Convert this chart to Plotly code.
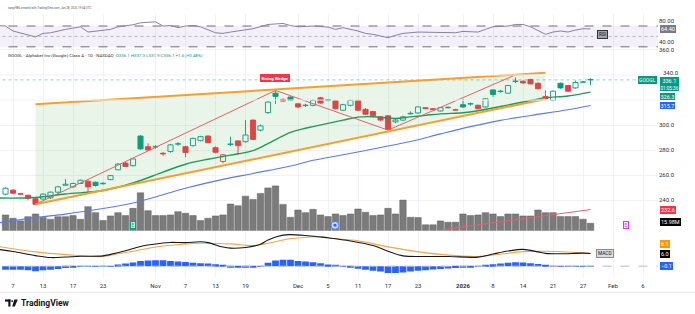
import plotly.graph_objects as go

W, H = 695, 314
PW = 658  # plot-area width in px (right margin holds price scale)

GREEN = "#089981"
RED = "#f23645"
BLUE = "#2962ff"
GRID = "#f0f2f7"

# ---------------- data ----------------
# x = trading-day index, 0 = 7 Oct 2025 ... 77 = 28 Jan 2026
tick_idx = [0, 4, 8, 12, 19, 23, 27, 31, 38, 42, 46, 50, 54, 60, 64, 68, 72, 76, 80, 84]
tick_text = ["7", "13", "17", "23", "Nov", "7", "13", "19", "Dec", "5", "11", "17", "23",
             "<b>2026</b>", "8", "14", "21", "27", "Feb", "6"]
price_ticks = [240, 260, 280, 300, 360]

idx = list(range(-1, 78))
opens = [244.9, 248.1, 245.3, 244.0, 241.2, 241.0, 242.0, 246.5, 252.0, 250.7,
         253.4, 255.2, 254.4, 253.2, 256.5, 264.4, 269.7, 267.6, 291.3, 282.8,
         282.5, 277.5, 278.9, 284.8, 282.8, 283.6, 287.6, 291.3, 282.0, 271.0,
         284.5, 287.4, 286.8, 304.0, 296.0, 310.0, 325.5, 320.5, 322.4, 317.0,
         315.6, 315.8, 321.8, 319.6, 319.7, 311.9, 315.8, 319.7, 312.6, 310.8,
         306.6, 307.4, 302.6, 304.0, 309.0, 309.7, 313.9, 313.1, 311.3, 313.9,
         312.3, 316.3, 316.8, 315.8, 314.5, 328.1, 326.8, 325.5, 334.8, 335.0,
         336.4, 333.4, 322.9, 319.8, 333.4, 331.6, 329.7, 334.2, 336.1]
highs = [250.5, 249.0, 246.0, 244.5, 241.8, 245.5, 247.0, 251.5, 257.0, 254.0,
         256.5, 256.0, 255.0, 254.5, 260.2, 269.5, 270.5, 273.5, 291.8, 285.5,
         284.0, 278.5, 285.0, 286.5, 283.5, 290.0, 291.5, 291.8, 283.0, 277.0,
         290.8, 288.0, 304.0, 304.5, 300.5, 319.0, 327.7, 321.5, 323.0, 317.5,
         317.0, 320.5, 322.5, 321.0, 320.2, 317.0, 320.3, 320.5, 313.5, 311.5,
         307.0, 308.0, 305.0, 307.5, 311.0, 315.0, 314.5, 313.5, 314.5, 314.8,
         313.0, 321.0, 318.0, 316.5, 321.5, 328.5, 328.0, 332.2, 338.0, 335.7,
         337.0, 334.0, 327.7, 327.6, 334.0, 332.0, 335.5, 335.3, 337.3]
lows = [244.0, 245.0, 244.3, 240.0, 236.2, 240.5, 241.0, 245.5, 251.5, 250.0,
        253.0, 246.0, 251.0, 252.5, 256.0, 264.0, 266.5, 267.0, 280.5, 279.5,
        281.0, 275.5, 278.0, 283.5, 274.4, 283.0, 287.0, 285.5, 277.5, 269.5,
        283.5, 276.3, 286.0, 288.0, 295.0, 309.0, 317.0, 318.5, 319.3, 313.5,
        314.5, 315.0, 317.0, 319.0, 312.5, 311.5, 315.0, 311.0, 308.0, 306.5,
        303.0, 296.0, 301.5, 303.5, 308.5, 309.0, 312.8, 312.0, 311.0, 313.2,
        311.5, 313.8, 315.5, 312.5, 314.0, 322.5, 326.0, 325.0, 333.5, 333.0,
        332.5, 328.5, 319.8, 319.3, 329.0, 326.5, 329.0, 333.8, 331.9]
closes = [249.6, 245.7, 244.9, 241.7, 236.8, 244.9, 246.5, 250.7, 252.8, 253.4,
          256.0, 250.7, 251.8, 253.4, 259.7, 268.9, 267.0, 273.0, 281.0, 280.2,
          283.0, 277.0, 284.2, 285.0, 278.1, 289.4, 290.8, 286.0, 278.3, 276.3,
          285.0, 283.6, 292.1, 288.6, 299.4, 318.4, 322.9, 319.2, 319.8, 314.5,
          315.8, 319.7, 317.6, 320.4, 313.1, 316.3, 319.7, 311.9, 308.7, 307.4,
          304.0, 296.5, 304.0, 306.6, 309.4, 314.5, 313.1, 312.3, 313.9, 314.1,
          311.9, 314.5, 317.0, 313.1, 321.0, 324.5, 327.1, 331.6, 335.0, 333.7,
          332.9, 329.0, 321.0, 327.1, 329.7, 327.1, 334.0, 334.5, 336.1]
volume_m = [33.6, 26.6, 21.0, 30.0, 35.7, 28.0, 24.5, 30.0, 30.0, 32.2,
            24.5, 51.1, 38.5, 21.7, 31.5, 38.5, 32.2, 47.6, 80.5, 42.7,
            32.2, 32.2, 33.6, 40.6, 37.1, 32.2, 21.7, 26.6, 31.5, 33.6,
            56.7, 53.2, 73.5, 66.5, 79.1, 91.0, 95.2, 56.0, 28.7, 44.1,
            38.5, 45.5, 33.6, 30.1, 35.7, 32.2, 35.7, 46.2, 39.2, 32.2,
            33.6, 47.6, 35.7, 65.1, 28.7, 28.0, 12.6, 12.6, 21.0, 18.2,
            18.2, 35.7, 32.2, 33.6, 38.5, 35.7, 30.1, 35.7, 35.7, 31.5,
            31.5, 44.1, 38.5, 38.5, 30.1, 30.1, 30.1, 24.5, 15.98]
macd_hist = [-1.7, -1.7, -1.7, -2.0, -2.4, -2.0, -1.7, -1.4, -0.9, -0.6,
             -0.3, -0.1, -0.1, -0.3, 0.1, 0.8, 1.3, 1.7, 2.4, 2.7,
             2.8, 2.8, 2.4, 2.2, 2.0, 1.6, 1.4, 1.3, 0.9, 0.5,
             -0.5, -0.6, -0.8, -0.6, 0.05, 1.6, 2.7, 3.0, 3.0, 2.5,
             2.2, 1.9, 1.4, 0.8, 0.3, -0.3, -0.8, -1.2, -1.7, -2.2,
             -2.6, -3.3, -3.3, -3.0, -2.6, -2.2, -1.9, -1.6, -1.3, -1.1,
             -0.9, -0.8, -0.6, -0.3, 0.3, 0.9, 1.3, 1.6, 1.9, 1.8,
             1.4, 1.0, 0.2, -0.1, -0.2, -0.3, -0.3, -0.2, -0.1]

ma_fast_x = [-2, 3, 7, 12, 16, 20, 23, 26, 28, 30, 32, 34, 37, 39, 40, 44, 46, 48, 51,
             53, 55, 57, 60, 62, 65, 67, 69, 71, 74, 77]
ma_fast_v = [241.8, 242.2, 245.0, 247.8, 253.8, 262.5, 268.8, 272.8, 275.0, 277.1,
             279.6, 285.3, 294.2, 297.5, 298.8, 304.0, 306.4, 306.7, 305.3, 306.6,
             307.8, 309.0, 309.9, 311.5, 314.9, 317.2, 319.6, 321.9, 323.2, 326.3]
ma_slow_x = [-2, 3, 7, 12, 16, 20, 23, 28, 32, 37, 40, 44, 49, 53, 57, 61, 65, 69, 74, 77]
ma_slow_v = [221.9, 226.2, 229.0, 233.4, 237.9, 244.4, 249.6, 256.7, 261.4, 267.4,
             271.9, 276.3, 282.1, 286.9, 293.0, 298.8, 303.8, 307.7, 312.2, 315.7]

rsi_x = [-2, -1, 0, 1, 3, 4, 5, 7, 8, 9, 10, 12, 13, 14, 16, 17, 19, 20, 21, 22, 23, 24,
         25, 27, 28, 29, 31, 32, 34, 36, 37, 38, 40, 42, 43, 44, 46, 47, 48, 50, 51, 52,
         54, 55, 58, 59, 60, 62, 63, 64, 66, 67, 68, 69, 71, 72, 73, 74, 75, 76, 77]
rsi_v = [71.0, 70.0, 60.4, 57.0, 49.0, 55.8, 57.0, 63.5, 65.4, 68.6, 58.4, 61.0, 63.5,
         68.6, 72.4, 76.2, 78.1, 70.0, 71.0, 67.0, 70.0, 71.0, 68.6, 57.0, 55.8, 58.4,
         62.3, 64.8, 73.0, 74.9, 71.0, 68.6, 69.9, 68.0, 63.5, 66.7, 60.4, 55.8, 54.0,
         47.6, 52.0, 55.8, 58.4, 58.4, 58.4, 57.1, 59.6, 58.4, 63.5, 68.6, 69.9, 73.0,
         73.0, 68.6, 54.0, 58.4, 60.4, 58.4, 62.3, 64.8, 64.4]

macd_x = [-2, 0, 3, 5, 7, 9, 12, 13, 15, 17, 20, 21, 23, 25, 26, 28, 29, 31, 33, 34,
          36, 37, 39, 41, 42, 45, 48, 50, 52, 55, 58, 62, 64, 66, 68, 70, 71, 73, 76, 77]
macd_v = [8.0, 7.0, 5.0, 4.1, 4.35, 4.7, 4.9, 5.6, 7.3, 9.4, 11.0, 11.3, 11.2, 11.6,
          11.2, 9.1, 8.6, 8.9, 10.4, 12.5, 14.8, 15.0, 14.6, 13.9, 13.5, 12.0, 9.8,
          7.1, 4.9, 4.6, 4.6, 4.3, 5.8, 7.2, 8.0, 6.8, 6.1, 5.9, 6.2, 6.0]
signal_x = [-2, 3, 7, 12, 14, 16, 20, 25, 29, 32, 34, 36, 38, 41, 42, 46, 49, 53, 57,
            62, 64, 68, 71, 75, 77]
signal_v = [9.4, 6.8, 5.5, 4.6, 5.9, 7.1, 9.6, 10.9, 10.6, 9.8, 10.9, 12.5, 13.4, 14.0,
            13.4, 12.1, 9.9, 7.4, 5.6, 4.6, 5.3, 6.9, 7.1, 6.5, 6.1]

wedge_x = [3, 71]
wedge_upper = [316.6, 341.7]
wedge_lower = [236.8, 320.9]
pattern_x = [3, 35, 50, 67]
pattern_y = [236.8, 327.7, 296.0, 340.1]
vol_trend_x = [57, 77]
vol_trend_y = [216.3, 232.6]
last_price = 336.1

# ---------------- helpers ----------------
def pxx(xp):
    return xp / PW


def pxy(yp):
    return 1 - yp / H


fig = go.Figure()

# volume (base axis of price pane)
fig.add_trace(go.Bar(x=idx, y=volume_m, width=0.86, marker=dict(color="#7b7b7b",
                     line=dict(color="#5e5e5e", width=0.5)), yaxis="y2", showlegend=False,
                     hoverinfo="skip"))

# wedge fill (drawn first so candles sit above it)
fig.add_trace(go.Scatter(x=[wedge_x[0], wedge_x[0], wedge_x[1], wedge_x[1], wedge_x[0]],
                         y=[wedge_lower[0], wedge_upper[0], wedge_upper[1], wedge_lower[1], wedge_lower[0]],
                         mode="lines", fill="toself", fillcolor="rgba(76,175,80,0.13)",
                         line=dict(width=0), yaxis="y3", showlegend=False, hoverinfo="skip"))
fig.add_trace(go.Scatter(x=[-3, 90], y=[last_price, last_price], mode="lines",
                         line=dict(color="rgba(8,153,129,0.45)", width=1, dash="dot"),
                         yaxis="y3", showlegend=False, hoverinfo="skip"))

# candle groups
n = len(idx)
groups = {}
for k in range(n):
    prev = closes[k - 1] if k > 0 else opens[k]
    col = GREEN if closes[k] >= prev else RED
    hollow = closes[k] >= opens[k]
    groups.setdefault((col, hollow), []).append(k)

for col in (GREEN, RED):
    wx, wy = [], []
    for k in range(n):
        prev = closes[k - 1] if k > 0 else opens[k]
        c = GREEN if closes[k] >= prev else RED
        if c != col:
            continue
        top = max(opens[k], closes[k])
        bot = min(opens[k], closes[k])
        wx += [idx[k], idx[k], None, idx[k], idx[k], None]
        wy += [highs[k], top, None, bot, lows[k], None]
    fig.add_trace(go.Scatter(x=wx, y=wy, mode="lines", line=dict(color=col, width=0.9),
                             yaxis="y3", showlegend=False, hoverinfo="skip"))

for (col, hollow), ks in groups.items():
    bx = [idx[k] for k in ks]
    base = [min(opens[k], closes[k]) for k in ks]
    hgt = [max(abs(closes[k] - opens[k]), 0.35) for k in ks]
    fig.add_trace(go.Bar(x=bx, y=hgt, base=base, width=0.68,
                         marker=dict(color="white" if hollow else col,
                                     line=dict(color=col, width=0.9)),
                         yaxis="y3", showlegend=False, hoverinfo="skip"))

# moving averages
fig.add_trace(go.Scatter(x=ma_slow_x, y=ma_slow_v, mode="lines", line=dict(color="#5b7be6", width=1.1, shape="spline"),
                         yaxis="y3", showlegend=False, hoverinfo="skip"))
fig.add_trace(go.Scatter(x=ma_fast_x, y=ma_fast_v, mode="lines", line=dict(color="#1f9a5a", width=1.4, shape="spline"),
                         yaxis="y3", showlegend=False, hoverinfo="skip"))

# wedge drawing
fig.add_trace(go.Scatter(x=pattern_x, y=pattern_y, mode="lines", line=dict(color="#e0606e", width=1),
                         yaxis="y3", showlegend=False, hoverinfo="skip"))
fig.add_trace(go.Scatter(x=wedge_x, y=wedge_upper, mode="lines", line=dict(color="#f5a02c", width=2),
                         yaxis="y3", showlegend=False, hoverinfo="skip"))
fig.add_trace(go.Scatter(x=wedge_x, y=wedge_lower, mode="lines", line=dict(color="#f5a02c", width=2),
                         yaxis="y3", showlegend=False, hoverinfo="skip"))
fig.add_trace(go.Scatter(x=vol_trend_x, y=vol_trend_y, mode="lines", line=dict(color="#e8606e", width=1),
                         yaxis="y3", showlegend=False, hoverinfo="skip"))

# RSI
fig.add_trace(go.Scatter(x=[-3, 90, 90, -3, -3], y=[30, 30, 70, 70, 30], mode="lines", fill="toself",
                         fillcolor="rgba(126,87,194,0.09)", line=dict(width=0),
                         yaxis="y", showlegend=False, hoverinfo="skip"))
for lv, dsh, colr in ((70, "dash", "#6b6e78"), (30, "dash", "#6b6e78"), (50, "dot", "rgba(120,123,134,0.5)")):
    fig.add_trace(go.Scatter(x=[-3, 90], y=[lv, lv], mode="lines", line=dict(color=colr, width=1, dash=dsh),
                             yaxis="y", showlegend=False, hoverinfo="skip"))
fig.add_trace(go.Scatter(x=rsi_x, y=rsi_v, mode="lines", line=dict(color="#8a80a0", width=1),
                         yaxis="y", showlegend=False, hoverinfo="skip"))

# MACD
fig.add_trace(go.Bar(x=idx, y=macd_hist, width=0.9, marker=dict(color=BLUE, line=dict(width=0)),
                     yaxis="y4", showlegend=False, hoverinfo="skip"))
fig.add_trace(go.Scatter(x=[-3, 90], y=[0, 0], mode="lines", line=dict(color="#b8bcc6", width=1, dash="dash"),
                         yaxis="y4", showlegend=False, hoverinfo="skip"))
fig.add_trace(go.Scatter(x=signal_x, y=signal_v, mode="lines", line=dict(color="#f5a640", width=1.1, shape="spline"),
                         yaxis="y4", showlegend=False, hoverinfo="skip"))
fig.add_trace(go.Scatter(x=macd_x, y=macd_v, mode="lines", line=dict(color="#131722", width=1.1, shape="spline"),
                         yaxis="y4", showlegend=False, hoverinfo="skip"))

# ---------------- layout ----------------
axfont = dict(size=6, color="#2a2e39")
fig.update_layout(
    width=W, height=H, margin=dict(l=0, r=W - PW, t=0, b=0),
    paper_bgcolor="white", plot_bgcolor="white",
    font=dict(family="Roboto, Liberation Sans, sans-serif", color="#131722"),
    barmode="overlay", showlegend=False,
    xaxis=dict(range=[-13 / 7.5, (PW - 13) / 7.5], tickvals=tick_idx, ticktext=tick_text,
               showgrid=True, gridcolor=GRID, gridwidth=1, zeroline=False, showline=False,
               ticks="", tickfont=axfont, anchor="y4", ticklabelstandoff=4),
    yaxis=dict(domain=[pxy(46), pxy(11)], range=[26.67, 93.33], side="right", anchor="x",
               tickvals=[40, 80], ticktext=["40.00", "80.00"], showgrid=False, zeroline=False,
               ticks="", tickfont=axfont),
    yaxis2=dict(domain=[pxy(230), pxy(46)], range=[0, 386.4], anchor="x", showgrid=False,
                zeroline=False, showticklabels=False, ticks=""),
    yaxis3=dict(overlaying="y2", side="right", anchor="x", range=[215.65, 361.1],
                tickvals=price_ticks, tickformat=".1f",
                showgrid=True, gridcolor=GRID, zeroline=False, ticks="", tickfont=axfont),
    yaxis4=dict(domain=[pxy(277), pxy(231)], range=[-5.33, 16.37], anchor="x", showgrid=False,
                zeroline=False, showticklabels=False, ticks=""),
)
# grid lines for the price levels hidden behind the right-side labels
for lv in (320, 340):
    fig.add_trace(go.Scatter(x=[-3, 90], y=[lv, lv], mode="lines", line=dict(color=GRID, width=1),
                             yaxis="y3", showlegend=False, hoverinfo="skip"))


def label(text, xp, yp, bg, fg="white", size=5.5, anchor="left", border=None, pad=1):
    fig.add_annotation(x=pxx(xp), y=pxy(yp), xref="paper", yref="paper", text=text,
                       showarrow=False, xanchor=anchor, yanchor="middle", bgcolor=bg,
                       bordercolor=border if border else bg, borderwidth=1 if border else 0,
                       borderpad=pad, font=dict(size=size, color=fg))


# header texts
fig.add_annotation(x=pxx(6), y=pxy(5), xref="paper", yref="paper", xanchor="left", yanchor="middle",
                   showarrow=False, text="sarge986 created with TradingView.com, Jan 28, 2026 19:54 UTC",
                   font=dict(size=2.9, color="#555"))
fig.add_annotation(x=pxx(6), y=pxy(53), xref="paper", yref="paper", xanchor="left", yanchor="middle",
                   showarrow=False,
                   text="GOOGL - Alphabet Inc (Google) Class A - 1D - NASDAQ  <span style='color:#089981'>O336.1 H337.3 L331.9 C336.1 +1.6 (+0.48%)</span>",
                   font=dict(size=4.4, color="#333"))

# pattern label
label("<b>Rising Wedge</b>", 275, 76, RED, size=4.3, anchor="center", pad=1.5)

# price-scale tick partially covered by the price label in the original
fig.add_annotation(x=pxx(661), y=pxy(70.5), xref="paper", yref="paper", xanchor="left", yanchor="middle",
                   showarrow=False, text="340.0", font=axfont)

# right-scale labels
label("64.40", 660, 26, "#787b86")
label("GOOGL", 657, 78, GREEN, size=5, anchor="right")
label("336.1<br><span style='font-size:4.6px'>01:05:36</span>", 660, 81.5, GREEN, pad=0.5)
label("326.3", 660, 94.8, GREEN, pad=0.5)
label("315.7", 660, 103.8, BLUE, pad=0.5)
label("232.6", 660, 208.6, RED)
label("15.98M", 660, 221.5, "#000000")
label("6.1", 660, 243, "#ff9800")
label("6.0", 660, 253, "#000000")
label("\u22120.1", 660, 265.7, BLUE)

# pane legends
label("RSI", 602.5, 32, "#a3a6af", fg="#131722", size=4.8, anchor="center", border="#333")
label("MACD", 605, 252.7, "#d9dbe1", fg="#131722", size=4.8, anchor="center", border="#8a8d96")

# event markers
label("E", 133, 224.5, "#c9efe6", fg=GREEN, size=4.5, anchor="center", border=GREEN, pad=0.5)
label("E", 626, 224.5, "#f8e6fb", fg="#d63ce8", size=4.5, anchor="center", border="#d63ce8", pad=0.5)
fig.add_shape(type="circle", xref="paper", yref="paper", x0=pxx(331), x1=pxx(339), y0=pxy(228.5), y1=pxy(220.5),
              fillcolor="#c9d6ff", line=dict(color="#5b7cff", width=1))
fig.add_shape(type="circle", xref="paper", yref="paper", x0=pxx(333.5), x1=pxx(336.5), y0=pxy(226), y1=pxy(223),
              fillcolor=BLUE, line=dict(width=0))

# frame line and logo
fig.add_shape(type="line", xref="paper", yref="paper", x0=0, x1=W / PW, y0=pxy(292), y1=pxy(292),
              line=dict(color="#e6e8ee", width=1))
fig.add_shape(type="rect", xref="paper", yref="paper", x0=pxx(5), x1=pxx(10.5), y0=pxy(301.5), y1=pxy(299.3),
              fillcolor="#131722", line=dict(width=0))
fig.add_shape(type="rect", xref="paper", yref="paper", x0=pxx(8.3), x1=pxx(10.5), y0=pxy(306.5), y1=pxy(299.3),
              fillcolor="#131722", line=dict(width=0))
fig.add_shape(type="circle", xref="paper", yref="paper", x0=pxx(11.2), x1=pxx(13.2), y0=pxy(302), y1=pxy(300),
              fillcolor="#131722", line=dict(width=0))
fig.add_shape(type="path", xref="paper", yref="paper",
              path="M {} {} L {} {} L {} {} L {} {} Z".format(pxx(14.3), pxy(299.3), pxx(17.8), pxy(299.3),
                                                               pxx(14.8), pxy(306.5), pxx(12.2), pxy(306.5)),
              fillcolor="#131722", line=dict(width=0))
fig.add_annotation(x=pxx(19), y=pxy(303), xref="paper", yref="paper", xanchor="left", yanchor="middle",
                   showarrow=False, text="<b>TradingView</b>", font=dict(size=8.5, color="#131722"))

fig.write_html("out.html")
